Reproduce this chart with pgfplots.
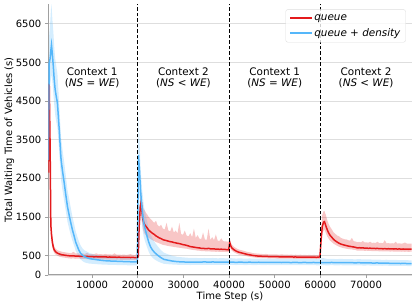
\documentclass[border=0pt]{standalone}
\usepackage{fontspec}
\setmainfont{DejaVu Sans}
\usepackage{pgfplots}
\usepackage{pgfplotstable}
\pgfplotsset{compat=1.18}
\usepgfplotslibrary{fillbetween}
\definecolor{redc}{RGB}{228,26,28}
\definecolor{bluec}{RGB}{85,183,250}
\definecolor{spine}{RGB}{160,160,160}
\definecolor{gridc}{RGB}{222,222,222}

\pgfplotstableread{
x y lo hi
400 2650 2300 3000
600 4950 4500 5300
800 3300 2800 3800
950 1300 1050 1600
1100 1050 880 1250
1300 840 720 980
1500 720 620 830
1700 650 570 740
2000 600 530 680
2400 565 500 640
2900 540 470 620
3400 522 460 600
3900 515 450 590
4400 505 440 580
4900 498 430 570
5400 492 425 560
5900 495 430 600
6400 488 420 555
6900 490 425 560
7400 482 420 550
7900 485 418 560
8400 478 415 545
8900 480 412 575
9400 474 410 540
9900 476 412 545
10400 470 405 540
10900 473 408 560
11400 468 405 535
11900 471 404 540
12400 466 400 530
12900 469 402 545
13400 463 398 530
13900 466 400 535
14400 460 396 525
14900 463 398 560
15400 458 394 525
15900 461 396 530
16400 456 392 520
16900 459 394 530
17400 454 390 520
17900 457 392 525
18400 452 388 540
18900 455 390 520
19400 450 386 515
19900 453 390 560
20100 470 400 620
20300 1250 1000 1500
20550 1780 1450 2050
20750 1900 1600 2150
20950 1600 1350 1900
21150 1420 1180 1750
21350 1340 1100 1700
21600 1290 1050 1650
21850 1250 1020 1600
22100 1210 990 1560
22400 1160 960 1500
22800 1120 930 1450
23200 1080 900 1400
23600 1050 880 1350
24000 1010 850 1400
24300 990 840 1300
24700 960 820 1250
25100 940 800 1300
25500 915 780 1200
25900 900 770 1180
26300 890 760 1350
26700 875 750 1150
27100 862 740 1130
27500 855 735 1250
27900 840 725 1100
28300 832 720 1150
28700 820 710 1080
29100 812 705 1350
29500 800 700 1060
29900 785 690 1040
30300 778 685 1150
30700 765 680 1020
31100 752 670 1000
31500 735 660 1080
31900 728 650 980
32300 720 645 1200
32700 712 640 960
33100 705 630 1030
33500 700 628 940
33900 690 620 930
34300 688 618 1100
34700 684 615 920
35100 680 610 910
35500 690 615 1200
35900 678 608 905
36300 674 605 980
36700 676 606 900
37100 668 600 1050
37500 672 603 890
37900 664 598 880
38300 668 600 950
38700 660 595 875
39100 662 596 870
39500 655 592 865
39900 652 590 860
40150 840 740 950
40350 760 680 850
40600 700 630 780
41100 650 585 725
41600 615 555 690
42100 590 530 660
42600 575 515 645
43100 560 505 630
43600 545 492 610
44100 530 480 595
44600 520 470 585
45100 508 460 570
45600 500 452 560
46100 492 445 555
46600 488 440 550
47100 485 438 545
47600 482 436 540
48100 480 434 545
48600 478 432 535
49100 476 430 535
49600 474 428 530
50100 475 428 535
50600 473 426 530
51100 471 425 528
51600 472 425 535
52100 469 423 525
52600 470 424 530
53100 467 421 522
53600 468 422 528
54100 465 420 520
54600 466 420 525
55100 463 418 518
55600 465 419 525
56100 461 416 516
56600 463 418 522
57100 460 415 515
57600 462 417 520
58100 459 414 515
58600 461 416 520
59100 458 413 512
59600 462 416 520
59900 470 420 540
60150 900 780 1050
60400 1250 1050 1550
60700 1370 1150 1650
60900 1380 1180 1650
61200 1270 1080 1550
61500 1170 1000 1420
61800 1090 940 1320
62100 1030 890 1250
62500 975 850 1180
62900 920 810 1100
63300 880 780 1060
63700 850 755 1020
64100 820 730 1000
64500 800 715 960
64900 785 700 940
65300 772 690 925
65700 760 680 920
66100 748 672 900
66500 740 665 890
66900 732 660 960
67300 724 652 875
67700 716 646 865
68100 700 630 850
68500 706 634 855
68900 698 628 845
69300 702 632 880
69700 694 625 840
70100 698 628 845
70500 690 622 835
70900 694 625 860
71300 686 618 830
71700 690 621 835
72100 684 616 828
72500 688 619 860
72900 680 612 825
73300 684 615 830
73700 677 610 820
74100 682 614 900
74500 675 608 818
74900 680 612 825
75300 674 606 815
75700 678 610 822
76100 672 605 815
76500 676 608 860
76900 670 603 812
77300 675 607 820
77700 668 601 810
78100 673 605 818
78500 667 600 840
78900 672 604 815
79300 666 599 808
79700 670 603 812
80000 668 601 810
}\queuetab

\pgfplotstableread{
x y lo hi
400 2980 2500 3500
500 4300 3700 4900
600 5480 4800 6200
800 5600 4900 6500
1000 5850 5100 6900
1100 5950 5200 7000
1300 5700 5000 6600
1500 5400 4700 6300
1700 5050 4400 5900
1900 4800 4150 5600
2100 4650 4000 5450
2400 4450 3800 5200
2600 4100 3500 4800
2800 3750 3150 4400
3000 3350 2800 3950
3200 2980 2450 3550
3500 2700 2200 3250
3900 2370 1900 2900
4200 2100 1680 2600
4600 1770 1380 2200
5000 1530 1180 1950
5350 1340 1020 1720
5700 1160 880 1500
6100 990 740 1300
6400 850 630 1130
6800 730 530 980
7100 640 460 870
7500 560 400 760
7900 510 360 690
8300 475 330 640
8800 450 310 610
9400 425 295 570
10000 412 290 545
10500 405 285 530
11000 395 280 515
11500 388 275 505
12000 380 272 495
12700 370 268 480
13400 366 265 470
14000 362 262 465
14700 358 260 460
15500 355 258 455
16200 351 256 450
17000 348 254 445
17700 345 252 440
18500 342 250 435
19200 340 248 430
19900 336 246 425
20150 3100 2300 4250
20370 2715 2000 3500
20600 2200 1650 2800
20800 1900 1420 2450
20960 1680 1250 2200
21150 1500 1100 2000
21320 1340 980 1800
21700 1150 830 1560
22060 990 710 1380
22400 850 600 1200
22790 730 510 1050
23200 650 450 950
23700 580 400 850
24260 520 360 760
25000 455 320 650
25700 405 290 580
26500 385 280 540
27500 362 272 500
28660 345 265 470
29500 340 262 460
30500 335 260 450
31580 330 258 440
32500 336 262 445
33500 332 260 435
34500 338 264 440
35500 334 262 438
36500 337 264 440
37500 331 260 432
38500 335 263 436
39500 330 259 430
40500 333 262 435
41500 328 258 425
42500 332 262 430
43500 327 257 422
44500 331 260 428
45500 326 256 420
46500 330 260 425
47500 325 256 420
48500 329 259 424
49500 324 255 418
50500 328 258 422
51500 323 254 416
52500 327 257 420
53500 322 253 415
54500 326 256 418
55500 321 252 412
56500 325 256 418
57500 320 252 412
58500 324 255 416
59500 319 250 410
60500 323 254 440
61500 320 250 415
62500 324 254 420
63500 318 249 410
64500 322 253 418
65500 317 248 408
66500 321 252 412
67500 315 246 405
68500 318 249 410
69500 312 244 402
70500 315 247 405
71500 309 242 398
72500 311 244 400
73500 305 239 392
74500 307 241 395
75500 301 236 388
76500 303 238 390
77500 297 233 384
78500 299 235 386
79500 293 230 380
80000 292 229 378
}\densitytab

\begin{document}
\begin{tikzpicture}
\begin{axis}[
  name=ax,
  scale only axis,
  width=363.4pt, height=270.6pt,
  xmin=400, xmax=80000,
  ymin=0, ymax=7000,
  xtick={10000,20000,30000,40000,50000,60000,70000},
  ytick={0,500,1500,2500,3500,4500,5500,6500},
  scaled x ticks=false, scaled y ticks=false,
  /pgf/number format/1000 sep={},
  /pgf/number format/assume math mode=true,
  axis lines*=left,
  axis line style={draw=spine, line width=1pt, -},
  tick align=outside,
  major tick length=3.5pt,
  tick style={draw=spine, line width=0.8pt},
  ymajorgrids,
  grid style={draw=gridc, line width=0.9pt},
  xlabel={Time Step (s)},
  ylabel={Total Waiting Time of Vehicles (s)},
  xticklabel style={yshift=1pt},
  xlabel style={at={(axis description cs:0.5,-0.079)}, anchor=center, inner sep=0pt},
  ylabel style={at={(axis description cs:-0.107,0.5)}, anchor=center},
  legend style={at={(axis description cs:1,1)}, anchor=north east,
    xshift=-6pt, yshift=-5pt, draw=gridc, rounded corners=2pt,
    fill=white, fill opacity=0.8, text opacity=1,
    font=\fontsize{10.4}{12}\selectfont\itshape, inner xsep=3.5pt, inner ysep=3pt,
    row sep=3.5pt,
    nodes={inner sep=1.6pt}},
  legend cell align=left,
  legend image code/.code={\draw[#1, line width=1.5pt] (0pt,0pt) -- (22pt,0pt);},
]
% queue band
\addplot[name path=qlo, draw=none, forget plot] table[x=x,y=lo]{\queuetab};
\addplot[name path=qhi, draw=none, forget plot] table[x=x,y=hi]{\queuetab};
\addplot[fill=redc, fill opacity=0.25, draw=none, forget plot] fill between[of=qhi and qlo];
% density band
\addplot[name path=dlo, draw=none, forget plot] table[x=x,y=lo]{\densitytab};
\addplot[name path=dhi, draw=none, forget plot] table[x=x,y=hi]{\densitytab};
\addplot[fill=bluec, fill opacity=0.25, draw=none, forget plot] fill between[of=dhi and dlo];
% mean lines
\addplot[redc, line width=1.5pt] table[x=x,y=y]{\queuetab};
\addlegendentry{queue}
\addplot[bluec, line width=1.5pt] table[x=x,y=y]{\densitytab};
\addlegendentry{queue + density}
% context separators
\addplot[black, line width=1.1pt, dash pattern=on 3.5pt off 2pt, forget plot] coordinates {(20000,0) (20000,7000)};
\addplot[black, line width=1.1pt, dash pattern=on 3.5pt off 2pt, forget plot] coordinates {(40000,0) (40000,7000)};
\addplot[black, line width=1.1pt, dash pattern=on 3.5pt off 2pt, forget plot] coordinates {(60000,0) (60000,7000)};
% context labels
\node[align=center, font=\fontsize{10.4}{11}\selectfont] at (axis cs:10000,5100) {Context 1\\(\textit{NS} = \textit{WE})};
\node[align=center, font=\fontsize{10.4}{11}\selectfont] at (axis cs:30000,5100) {Context 2\\(\textit{NS} < \textit{WE})};
\node[align=center, font=\fontsize{10.4}{11}\selectfont] at (axis cs:50000,5100) {Context 1\\(\textit{NS} = \textit{WE})};
\node[align=center, font=\fontsize{10.4}{11}\selectfont] at (axis cs:70000,5100) {Context 2\\(\textit{NS} < \textit{WE})};
\end{axis}
\pgfresetboundingbox
\path[use as bounding box] ([shift={(-48.3pt,-31pt)}]ax.south west) rectangle ([shift={(3.3pt,4.4pt)}]ax.north east);
\end{tikzpicture}
\end{document}
